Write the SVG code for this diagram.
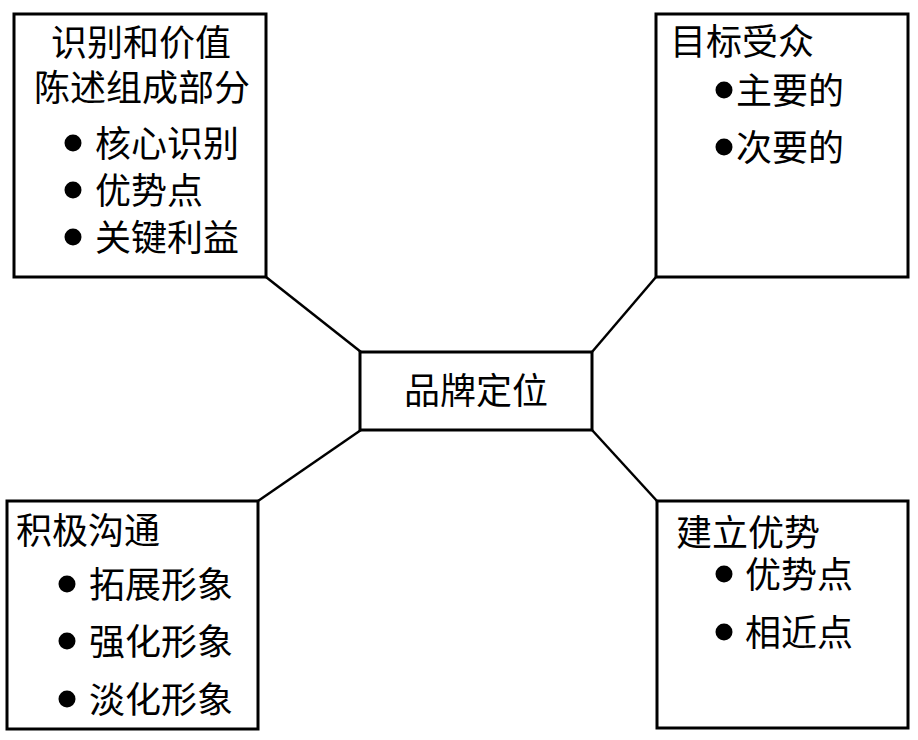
<svg xmlns="http://www.w3.org/2000/svg" width="918" height="740" viewBox="0 0 918 740">
<style>
.box{fill:#fff;stroke:#000;stroke-width:3}
.ln{stroke:#000;stroke-width:2.5;fill:none}
text{font-family:"Liberation Serif","Noto Sans CJK SC",serif;font-size:36px;fill:#000}
.m{text-anchor:middle}
.b{fill:#000}
</style>
<rect width="918" height="740" fill="#fff"/>
<g id="connectors">
<line class="ln" x1="266" y1="277" x2="361" y2="352"/>
<line class="ln" x1="656" y1="277" x2="592" y2="352"/>
<line class="ln" x1="258" y1="501" x2="361" y2="430"/>
<line class="ln" x1="657" y1="501" x2="592" y2="430"/>
</g>
<g id="center">
<rect class="box" x="360" y="352" width="232" height="78"/>
<text class="m" x="476" y="404">品牌定位</text>
</g>
<g id="identity">
<rect class="box" x="14" y="14" width="252" height="263"/>
<text class="m" x="141" y="56">识别和价值</text>
<text class="m" x="142" y="101">陈述组成部分</text>
<circle class="b" cx="73" cy="143" r="8.5"/>
<text x="95" y="157">核心识别</text>
<circle class="b" cx="73" cy="190" r="8.5"/>
<text x="95" y="204">优势点</text>
<circle class="b" cx="73" cy="237" r="8.5"/>
<text x="95" y="251">关键利益</text>
</g>
<g id="audience">
<rect class="box" x="656" y="14" width="252" height="263"/>
<text x="670" y="55">目标受众</text>
<circle class="b" cx="724" cy="90" r="8.5"/>
<text x="736" y="104">主要的</text>
<circle class="b" cx="724" cy="147" r="8.5"/>
<text x="736" y="161">次要的</text>
</g>
<g id="communication">
<rect class="box" x="7" y="501" width="251" height="228"/>
<text x="16" y="544">积极沟通</text>
<circle class="b" cx="67" cy="584" r="8.5"/>
<text x="89" y="598">拓展形象</text>
<circle class="b" cx="67" cy="641" r="8.5"/>
<text x="89" y="655">强化形象</text>
<circle class="b" cx="67" cy="699" r="8.5"/>
<text x="89" y="713">淡化形象</text>
</g>
<g id="advantage">
<rect class="box" x="657" y="501" width="251" height="227"/>
<text x="676" y="546">建立优势</text>
<circle class="b" cx="724" cy="574" r="8.5"/>
<text x="745" y="588">优势点</text>
<circle class="b" cx="724" cy="632" r="8.5"/>
<text x="745" y="646">相近点</text>
</g>
</svg>
